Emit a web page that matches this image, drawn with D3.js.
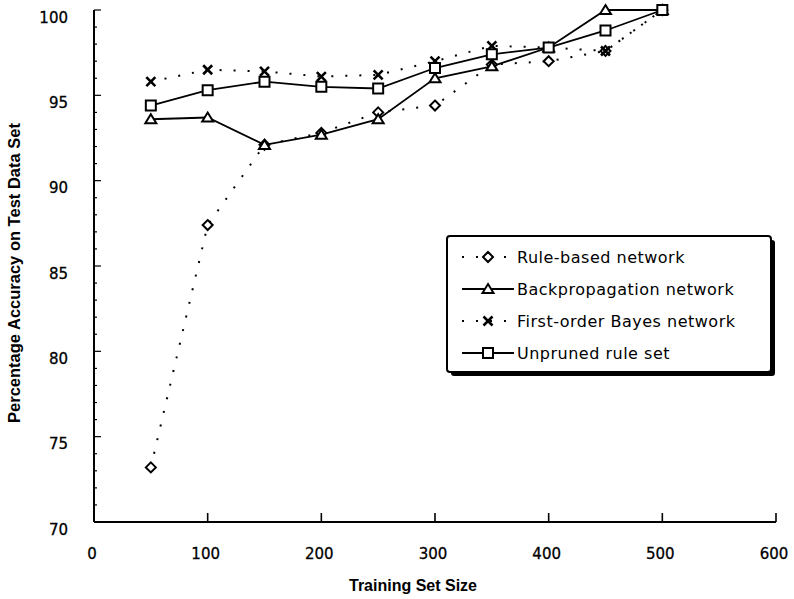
<!DOCTYPE html>
<html>
<head>
<meta charset="utf-8">
<script src="https://cdn.jsdelivr.net/npm/d3@7"></script>
<style>
  html, body { margin: 0; padding: 0; background: #fff; }
  svg { display: block; }
</style>
</head>
<body>
<svg id="chart" width="794" height="599"></svg>
<script>
// ---- data ----
const sizes      = [50, 100, 150, 200, 250, 300, 350, 400, 450, 500];
const ruleBased  = [73.2, 87.4, 92.1, 92.8, 94.0, 94.4, 96.8, 97.0, 97.6, 100];
const backprop   = [93.6, 93.7, 92.1, 92.7, 93.6, 96.0, 96.7, 97.8, 100, 100];
const bayes      = [95.8, 96.5, 96.4, 96.1, 96.2, 97.0, 97.9, 97.8, 97.6, 100];
const unpruned   = [94.4, 95.3, 95.8, 95.5, 95.4, 96.6, 97.4, 97.8, 98.8, 100];
const seriesNames = ["Rule-based network", "Backpropagation network", "First-order Bayes network", "Unpruned rule set"];
const xTicks = [0, 100, 200, 300, 400, 500, 600];
const yTicks = [70, 75, 80, 85, 90, 95, 100];
const yMinor = d3.range(70, 101, 1);
const xTitle = "Training Set Size";
const yTitle = "Percentage Accuracy on Test Data Set";

// ---- layout ----
const svg = d3.select("#chart");
const x = d3.scaleLinear().domain([0, 600]).range([94, 776]);
const y = d3.scaleLinear().domain([70, 100]).range([522, 10]);

const series = [
  { name: seriesNames[0], values: ruleBased, dotted: true,  marker: "diamond" },
  { name: seriesNames[1], values: backprop,  dotted: false, marker: "triangle" },
  { name: seriesNames[2], values: bayes,     dotted: true,  marker: "cross" },
  { name: seriesNames[3], values: unpruned,  dotted: false, marker: "square" }
];

function markerPath(type) {
  const p = d3.path();
  if (type === "diamond") {
    const r = 5;
    p.moveTo(0, -r); p.lineTo(r, 0); p.lineTo(0, r); p.lineTo(-r, 0); p.closePath();
  } else if (type === "triangle") {
    const w = 5.5, h = 9;
    p.moveTo(0, -h * 0.55); p.lineTo(w, h * 0.45); p.lineTo(-w, h * 0.45); p.closePath();
  } else if (type === "square") {
    const r = 5;
    p.rect(-r, -r, 2 * r, 2 * r);
  } else if (type === "cross") {
    const r = 4.5;
    p.moveTo(-r, -r); p.lineTo(r, r); p.moveTo(r, -r); p.lineTo(-r, r);
  }
  return p.toString();
}

function drawMarker(g, type, cx, cy) {
  g.append("path")
    .attr("d", markerPath(type))
    .attr("transform", `translate(${cx},${cy})`)
    .attr("fill", type === "cross" ? "none" : "#fff")
    .attr("stroke", "#000")
    .attr("stroke-width", type === "cross" ? 2.6 : 2)
    .attr("stroke-linejoin", "miter");
}

function styleLine(sel, dotted) {
  sel.attr("fill", "none").attr("stroke", "#000");
  if (dotted) sel.attr("stroke-width", 2).attr("stroke-dasharray", "2,12");
  else sel.attr("stroke-width", 1.8);
}

// ---- axes ----
const axes = svg.append("g");
axes.append("line")
  .attr("x1", x(0)).attr("x2", x(0)).attr("y1", y(100)).attr("y2", y(70))
  .attr("stroke", "#000").attr("stroke-width", 2);
axes.append("line")
  .attr("x1", x(0)).attr("x2", x(600)).attr("y1", y(70)).attr("y2", y(70))
  .attr("stroke", "#000").attr("stroke-width", 2);

// y minor + major ticks (inward)
axes.selectAll(".yminor").data(yMinor).enter().append("line")
  .attr("x1", x(0)).attr("x2", d => x(0) + (d % 5 === 0 ? 7 : 3))
  .attr("y1", d => y(d)).attr("y2", d => y(d))
  .attr("stroke", "#000").attr("stroke-width", 1.2);

// x major ticks (upward)
axes.selectAll(".xtick").data(xTicks.slice(1)).enter().append("line")
  .attr("x1", d => x(d)).attr("x2", d => x(d))
  .attr("y1", y(70)).attr("y2", y(70) - 9)
  .attr("stroke", "#000").attr("stroke-width", 1.6);

const tickFont = "'DejaVu Sans', sans-serif";
axes.selectAll(".ylab").data(yTicks).enter().append("text")
  .attr("x", 68).attr("y", d => y(d) + 12.5)
  .attr("text-anchor", "end")
  .attr("font-family", tickFont).attr("font-size", 15)
  .attr("stroke", "#000").attr("stroke-width", 0.3)
  .text(d => d);

axes.selectAll(".xlab").data(xTicks).enter().append("text")
  .attr("x", d => x(d) - 2).attr("y", 559)
  .attr("text-anchor", "middle")
  .attr("font-family", tickFont).attr("font-size", 15)
  .attr("stroke", "#000").attr("stroke-width", 0.3)
  .text(d => d);

svg.append("text")
  .attr("x", 413).attr("y", 591)
  .attr("text-anchor", "middle")
  .attr("font-family", "'Liberation Sans', Arial, sans-serif")
  .attr("font-weight", "bold").attr("font-size", 16)
  .text(xTitle);

svg.append("text")
  .attr("transform", `translate(20,273) rotate(-90)`)
  .attr("text-anchor", "middle")
  .attr("font-family", "'Liberation Sans', Arial, sans-serif")
  .attr("font-weight", "bold").attr("font-size", 16.5)
  .text(yTitle);

// ---- lines ----
const line = d3.line().x((d, i) => x(sizes[i])).y(d => y(d));
const plot = svg.append("g");
series.forEach(s => {
  plot.append("path").datum(s.values).attr("d", line).call(styleLine, s.dotted);
});
series.forEach(s => {
  const g = plot.append("g");
  s.values.forEach((v, i) => drawMarker(g, s.marker, x(sizes[i]), y(v)));
});

// ---- legend ----
const lg = svg.append("g");
const box = { x: 447, y: 236, w: 324, h: 136 };
lg.append("rect")
  .attr("x", box.x + 4).attr("y", box.y + 4).attr("width", box.w).attr("height", box.h)
  .attr("rx", 3).attr("fill", "#000");
lg.append("rect")
  .attr("x", box.x).attr("y", box.y).attr("width", box.w).attr("height", box.h)
  .attr("rx", 3).attr("fill", "#fff").attr("stroke", "#000").attr("stroke-width", 2);

const rowY = d3.scalePoint().domain(seriesNames).range([257, 353]);
series.forEach(s => {
  const cy = rowY(s.name);
  lg.append("line")
    .attr("x1", 462).attr("x2", 514).attr("y1", cy).attr("y2", cy)
    .call(styleLine, s.dotted);
  drawMarker(lg, s.marker, 488, cy);
  lg.append("text")
    .attr("x", 517).attr("y", cy + 6)
    .attr("font-family", "'DejaVu Sans', sans-serif")
    .attr("font-size", 16).attr("letter-spacing", 0.5)
    .text(s.name);
});
</script>
</body>
</html>
